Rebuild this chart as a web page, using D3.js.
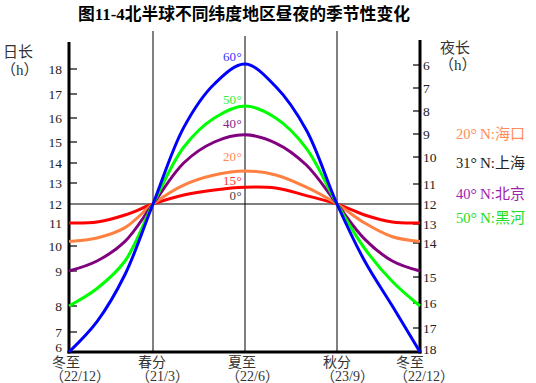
<!DOCTYPE html>
<html>
<head>
<meta charset="utf-8">
<script src="https://cdn.jsdelivr.net/npm/d3@7"></script>
<style>
  body { margin: 0; background: #fff; }
  svg { display: block; }
  text { font-family: "Liberation Serif", "Noto Sans CJK SC", serif; }
</style>
</head>
<body>
<svg width="536" height="383"></svg>
<script>
// months counted from winter solstice (22/12)
var months = [0, 1, 2, 3, 4, 5, 6, 7, 8, 9, 10, 11, 12];

// day length (h), one array per latitude
var dayLen15 = [11.0, 11.05, 11.42, 12, 12.43, 12.67, 12.8, 12.76, 12.4, 12, 11.42, 11.05, 11.0];
var dayLen20 = [10.2, 10.35, 10.8, 12, 12.9, 13.4, 13.6, 13.4, 12.8, 12, 11.0, 10.4, 10.2];
var dayLen40 = [9.0, 9.4, 10.2, 12, 14.0, 15.0, 15.3, 14.95, 13.9, 12, 10.3, 9.4, 9.0];
var dayLen50 = [8.0, 8.5, 9.4, 12, 14.75, 16.0, 16.5, 16.0, 14.7, 12, 9.9, 8.7, 8.0];
var dayLen60 = [6.0, 7.4, 8.9, 12, 15.6, 17.4, 18.2, 17.3, 15.5, 12, 9.4, 8.0, 6.0];

// axis ticks
var dayTicks = [6, 7, 8, 9, 10, 11, 12, 13, 14, 15, 16, 17, 18];
var nightTicks = [6, 7, 8, 9, 10, 11, 12, 13, 14, 15, 16, 17, 18];
var seasonMonths = [0, 3, 6, 9, 12];
var seasonNames = ["冬至", "春分", "夏至", "秋分", "冬至"];
var seasonDates = ["（22/12）", "（21/3）", "（22/6）", "（23/9）", "（22/12）"];

var curveLabels = ["60", "50", "40", "20", "15", "0"];
var legendLabels = ["20", "31", "40", "50"];
var legendPlaces = ["N:海口", "N:上海", "N:北京", "N:黑河"];

var svg = d3.select("svg");

// the chart's own axes are not evenly spaced, so piecewise scales
var x = d3.scaleLinear()
    .domain(seasonMonths)
    .range([69, 153, 245, 337, 420]);

var yDay = d3.scaleLinear()
    .domain(dayTicks)
    .range([352, 332, 306, 271, 246, 223, 204, 183, 163, 142, 118, 94, 69]);

var yNight = d3.scaleLinear()
    .domain(nightTicks)
    .range([65, 88, 111, 134, 157, 184, 204, 224, 243, 277, 303, 328, 352]);

// title
svg.append("text")
    .attr("x", 244)
    .attr("y", 20)
    .attr("text-anchor", "middle")
    .attr("font-size", 16.8)
    .attr("font-weight", "bold")
    .attr("fill", "#000")
    .text("图11-4北半球不同纬度地区昼夜的季节性变化");

// frame lines
var grid = svg.append("g").attr("stroke", "#000").attr("fill", "none");
var innerTops = [31, 36, 31];
[3, 6, 9].forEach(function(m, i) {
    grid.append("line")
        .attr("x1", x(m)).attr("x2", x(m))
        .attr("y1", innerTops[i]).attr("y2", yDay(6))
        .attr("stroke-width", 1);
});
grid.append("line")
    .attr("x1", x(0)).attr("x2", x(12))
    .attr("y1", yDay(12)).attr("y2", yDay(12))
    .attr("stroke-width", 1);

// left axis (day length)
grid.append("line")
    .attr("x1", x(0)).attr("x2", x(0))
    .attr("y1", 42).attr("y2", yDay(6) + 1.5)
    .attr("stroke-width", 3);
// right axis (night length)
grid.append("line")
    .attr("x1", x(12)).attr("x2", x(12))
    .attr("y1", 40).attr("y2", yDay(6) + 1.5)
    .attr("stroke-width", 3);
// bottom axis
grid.append("line")
    .attr("x1", x(0) - 1.5).attr("x2", x(12) + 1.5)
    .attr("y1", yDay(6)).attr("y2", yDay(6))
    .attr("stroke-width", 3);

// left ticks and labels
dayTicks.forEach(function(v) {
    if (v !== 6 && v !== 12) {
        grid.append("line")
            .attr("x1", x(0)).attr("x2", x(0) + 8)
            .attr("y1", yDay(v)).attr("y2", yDay(v))
            .attr("stroke-width", 1.2);
    }
    svg.append("text")
        .attr("x", 62)
        .attr("y", Math.min(yDay(v), 347.5))
        .attr("dy", "0.35em")
        .attr("text-anchor", "end")
        .attr("font-size", 13.5)
        .attr("fill", "#222")
        .text(v);
});

// right ticks and labels
nightTicks.forEach(function(v) {
    if (v !== 18 && v !== 12) {
        grid.append("line")
            .attr("x1", x(12) - 7).attr("x2", x(12))
            .attr("y1", yNight(v)).attr("y2", yNight(v))
            .attr("stroke-width", 1.2);
    }
    svg.append("text")
        .attr("x", 423)
        .attr("y", Math.min(yNight(v), 349))
        .attr("dy", "0.35em")
        .attr("text-anchor", "start")
        .attr("font-size", 13.5)
        .attr("fill", "#222")
        .text(v);
});

// axis titles
svg.append("text").attr("x", 3).attr("y", 57).attr("font-size", 15)
    .attr("fill", "#333").text("日长");
svg.append("text").attr("x", 1).attr("y", 75).attr("font-size", 15)
    .attr("fill", "#333").text("（h）");
svg.append("text").attr("x", 440).attr("y", 53).attr("font-size", 15)
    .attr("fill", "#333").text("夜长");
svg.append("text").attr("x", 439).attr("y", 70).attr("font-size", 15)
    .attr("fill", "#333").text("（h）");

// season labels
var nameX = [66, 152, 242, 337, 410];
seasonMonths.forEach(function(m, i) {
    svg.append("text")
        .attr("x", nameX[i])
        .attr("y", 366.5)
        .attr("text-anchor", "middle")
        .attr("font-size", 14)
        .attr("fill", "#333")
        .text(seasonNames[i]);
    svg.append("text")
        .attr("x", nameX[i] - 16)
        .attr("y", 381)
        .attr("text-anchor", "start")
        .attr("font-size", 14)
        .attr("fill", "#333")
        .text(seasonDates[i]);
});

// day length curves
var series = [
    {values: dayLen15, color: "#ff0000"},
    {values: dayLen20, color: "#ff8040"},
    {values: dayLen40, color: "#800080"},
    {values: dayLen50, color: "#00ff00"},
    {values: dayLen60, color: "#0000ff"}
];

var line = d3.line()
    .x(function(d) { return x(d[0]); })
    .y(function(d) { return yDay(d[1]); })
    .curve(d3.curveCatmullRom.alpha(0.5));

svg.append("g")
    .attr("fill", "none")
    .attr("stroke-width", 3)
    .attr("stroke-linejoin", "round")
    .selectAll("path")
    .data(series)
    .enter().append("path")
    .attr("stroke", function(d) { return d.color; })
    .attr("d", function(d) {
        return line(months.map(function(m, i) { return [m, d.values[i]]; }));
    });

// latitude labels at the summer solstice
var curveLabelColors = ["#3333ff", "#33ee33", "#882288", "#ff8855", "#ff3333", "#444"];
var curveLabelY = [61, 104, 128, 161, 184.5, 200];
curveLabels.forEach(function(t, i) {
    var lbl = svg.append("text")
        .attr("x", 223)
        .attr("y", curveLabelY[i])
        .attr("font-size", 13)
        .attr("fill", curveLabelColors[i]);
    if (t === "0") lbl.attr("x", 229.5);
    lbl.append("tspan").text(t);
    lbl.append("tspan").attr("dx", 0.5).text("°");
});

// legend on the right
var legendColors = ["#ff8c5a", "#222", "#a020b0", "#22dd22"];
var legendY = [139, 168, 199, 223];
legendLabels.forEach(function(t, i) {
    var txt = svg.append("text")
        .attr("x", 456)
        .attr("y", legendY[i])
        .attr("font-size", 14.5)
        .attr("fill", legendColors[i]);
    txt.append("tspan").text(t);
    txt.append("tspan").attr("font-size", 16).attr("dy", 1).text("°");
    txt.append("tspan").attr("x", 480).attr("dy", -1).attr("font-size", 15).text(legendPlaces[i]);
});
</script>
</body>
</html>
